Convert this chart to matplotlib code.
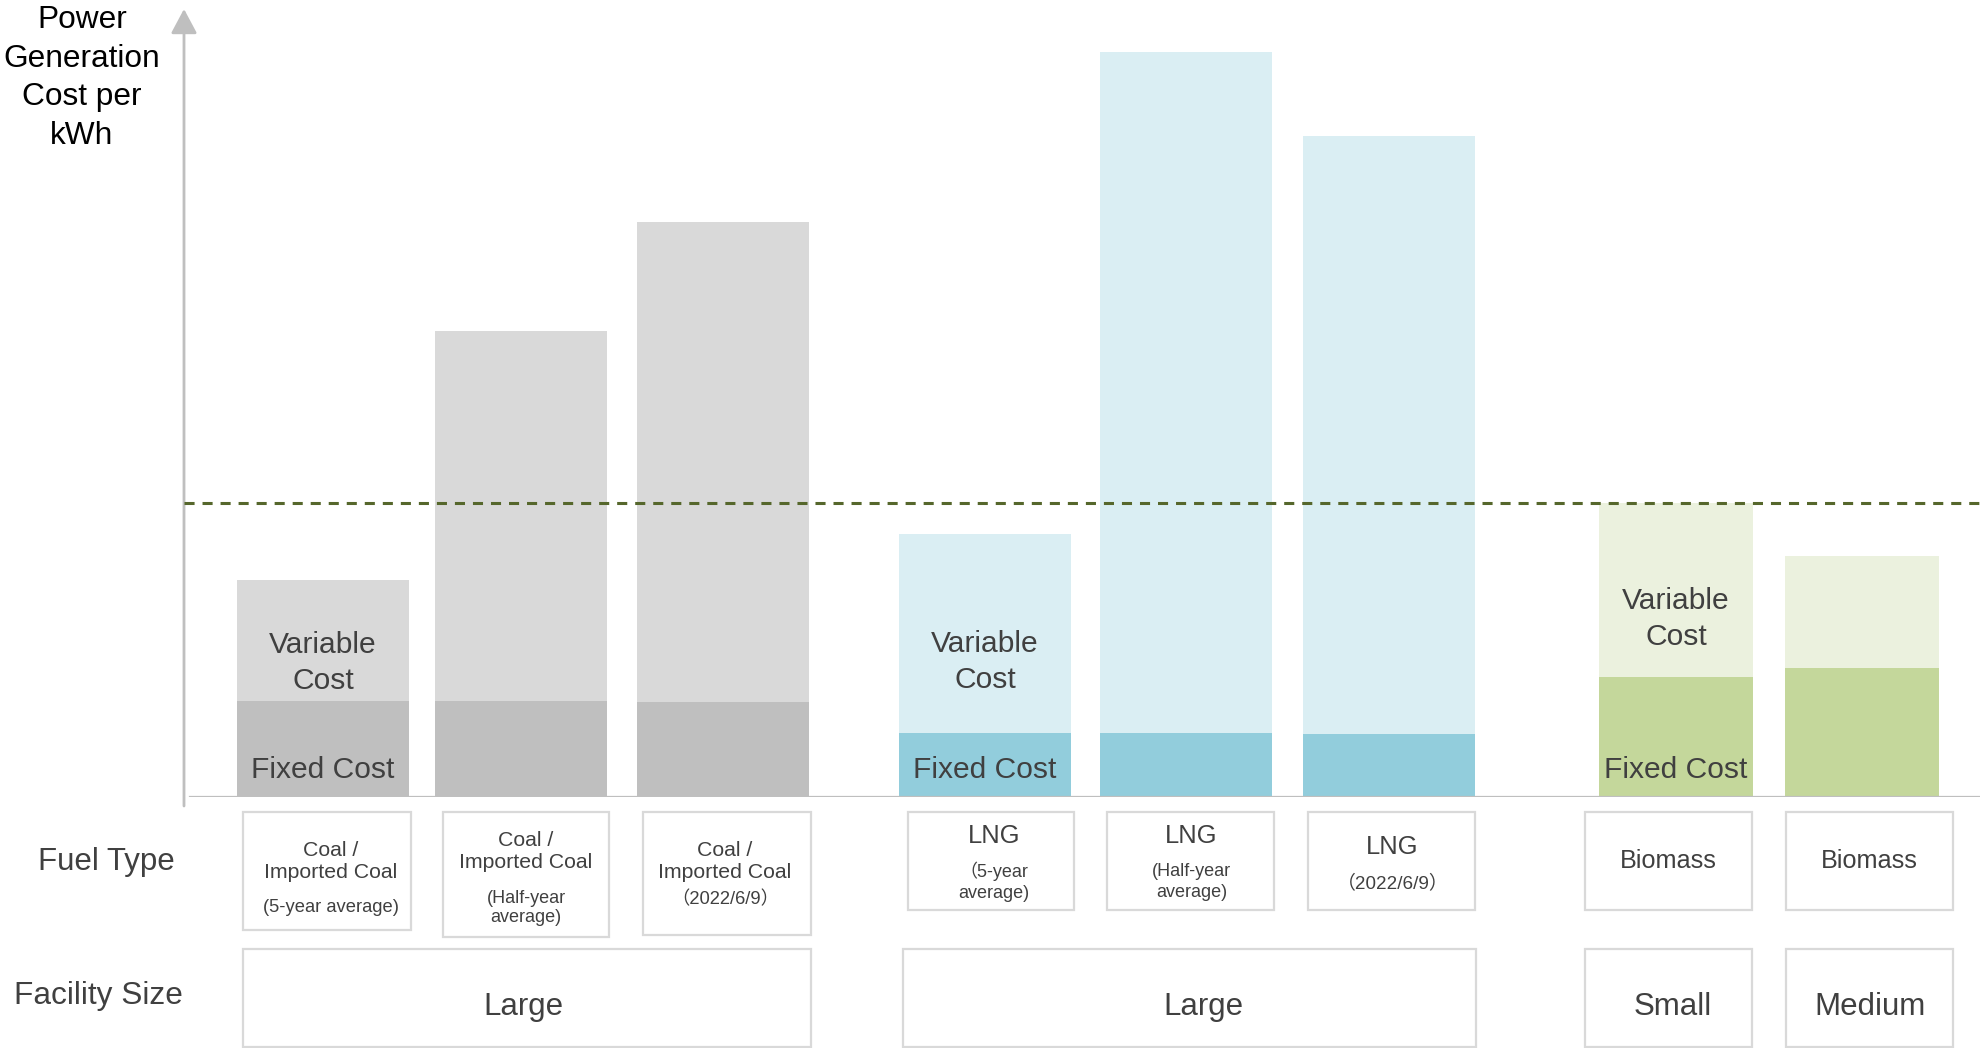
import numpy as np
import matplotlib
matplotlib.use("Agg")
import matplotlib.pyplot as plt
from matplotlib.patches import Rectangle

plt.rcParams['font.family'] = ['Liberation Sans', 'Noto Sans CJK JP', 'DejaVu Sans']

# cost per kWh (arbitrary units), fixed part and variable part of each plant
fixed_cost = [9.6, 9.6, 9.5, 6.4, 6.4, 6.3, 12.0, 12.9]
variable_cost = [12.1, 37.0, 48.0, 19.9, 68.1, 59.8, 17.4, 11.2]
fuel_names = ["Coal /\nImported Coal", "Coal /\nImported Coal", "Coal /\nImported Coal",
              "LNG", "LNG", "LNG", "Biomass", "Biomass"]
periods = ["(5-year average)", "(Half-year\naverage)", "（2022/6/9）",
           "（5-year\naverage)", "(Half-year\naverage)", "（2022/6/9）", "", ""]
facility_sizes = ["Large", "Large", "Small", "Medium"]
biomass_small_total = fixed_cost[6] + variable_cost[6]

fixed_colors = ['#bfbfbf'] * 3 + ['#92cddc'] * 3 + ['#c4d79b'] * 2
var_colors = ['#d9d9d9'] * 3 + ['#daeef3'] * 3 + ['#ebf1de'] * 2
txt = '#404040'
edge = '#d9d9d9'

W, H = 1981, 1048
fig = plt.figure(figsize=(W / 100, H / 100), dpi=100)

# overlay in pixel coordinates for the boxes and side labels
lay = fig.add_axes([0, 0, 1, 1])
lay.set_xlim(0, W)
lay.set_ylim(H, 0)
lay.axis('off')

ax = fig.add_axes([184 / W, (H - 797) / H, (W - 184) / W, (797 - 12) / H])
ax.patch.set_alpha(0)
x = np.array([0, 0.99, 2.0, 3.31, 4.315, 5.33, 6.765, 7.695])
widths = [0.86] * 6 + [0.77] * 2
ax.bar(x, fixed_cost, width=widths, color=fixed_colors, zorder=2)
ax.bar(x, variable_cost, bottom=fixed_cost, width=widths, color=var_colors, zorder=2)
ax.set_xlim(-0.695, 8.29)
ax.set_ylim(0, 78.5)
for s in ax.spines.values():
    s.set_visible(False)
ax.set_xticks([])
ax.set_yticks([])

ax.axhline(0, xmin=6 / (W - 184), color='#bfbfbf', lw=1.6, zorder=4)
ax.axhline(biomass_small_total, color='#56672c', lw=2.2, ls=(0, (3.3, 2.6)), zorder=5)

# segment labels
var_label_y = {0: 13.4, 3: 13.5, 6: 17.8}
for i, yy in var_label_y.items():
    ax.text(x[i], yy, "Variable\nCost", ha='center', va='center', fontsize=21.6,
            color=txt, linespacing=1.32, zorder=6)
    ax.text(x[i], 2.7, "Fixed Cost", ha='center', va='center', fontsize=21.6,
            color=txt, zorder=6)

# y axis with arrow
lay.annotate('', xy=(184, 9), xytext=(184, 806),
             arrowprops=dict(arrowstyle='-|>,head_length=0.75,head_width=0.4',
                             color='#bfbfbf', lw=2, mutation_scale=20, shrinkA=0, shrinkB=0))
lay.text(82, 78, "Power\nGeneration\nCost per\nkWh", ha='center', va='center',
         fontsize=22.8, color='black', linespacing=1.38)

lay.text(106, 862, "Fuel Type", ha='center', va='center', fontsize=22.5, color=txt)
lay.text(98, 996, "Facility Size", ha='center', va='center', fontsize=22.8, color=txt)

# fuel type boxes
fuel_boxes = [(243, 411, 930), (443, 609, 937), (643, 811, 935), (908, 1074, 910),
              (1107, 1274, 910), (1308, 1475, 910), (1585, 1752, 910), (1786, 1953, 910)]
text_shift = [4, 0, -2, 3, 1, 1, 0, 0]
name_y = [861, 852, 861, 836, 836, 847, 861, 861]
period_y = [907, 908, 900, 882, 882, 883, 0, 0]
for k, (x0, x1, y1) in enumerate(fuel_boxes):
    lay.add_patch(Rectangle((x0, 812), x1 - x0, y1 - 812, fill=False, ec=edge, lw=1.6))
    cx = (x0 + x1) / 2 + text_shift[k]
    if fuel_names[k] == "Biomass":
        fs = 18.2
    elif fuel_names[k] == "LNG":
        fs = 18.4
    else:
        fs = 15.3
    lay.text(cx, name_y[k], fuel_names[k], ha='center', va='center', fontsize=fs,
             color=txt, linespacing=1.2)
    if periods[k]:
        psize = 13.2 if k == 0 else 13
        if "2022" in periods[k]:
            psize = 13.2 if k == 2 else 13.6
        lay.text(cx, period_y[k], periods[k], ha='center', va='center', fontsize=psize,
                 color=txt, linespacing=1.3 if k >= 3 else 1.15)

# facility size boxes
fac_boxes = [(243, 811), (903, 1476), (1585, 1752), (1786, 1953)]
fac_text_x = [523, 1203, 1673, 1870]
for (x0, x1), name, tx in zip(fac_boxes, facility_sizes, fac_text_x):
    lay.add_patch(Rectangle((x0, 949), x1 - x0, 98, fill=False, ec=edge, lw=1.6))
    lay.text(tx, 1007, name, ha='center', va='center', fontsize=22.5, color=txt)

fig.savefig("out.png", dpi=100)
